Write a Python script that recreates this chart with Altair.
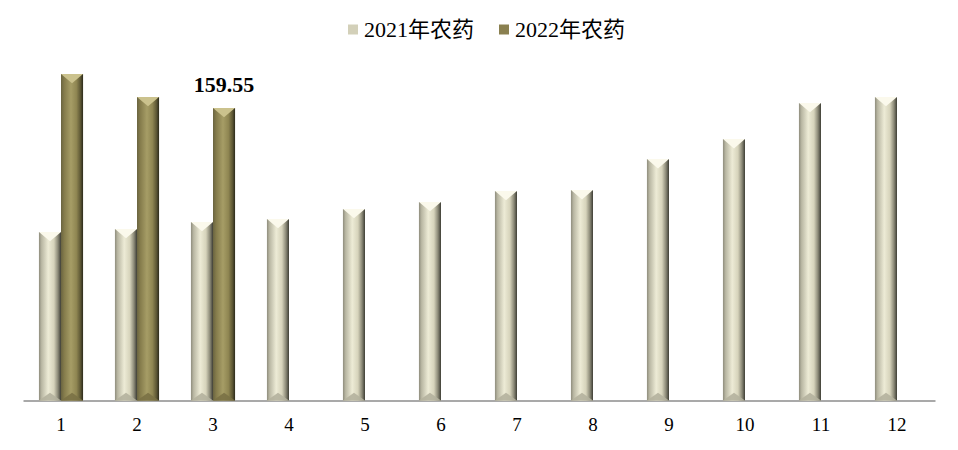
import altair as alt
import pandas as pd

months = [str(i) for i in range(1, 13)]
series = ["2021年农药", "2022年农药"]
v2021 = [91.9, 93.6, 97.4, 99.0, 104.5, 108.3, 114.3, 114.8, 131.7, 142.6, 162.3, 165.6]
months_2022 = ["1", "2", "3"]
v2022 = [178.1, 165.6, 159.55]
label_month = "3"
label_value = 159.55

rows = [{"month": m, "series": series[0], "value": v} for m, v in zip(months, v2021)]
rows += [{"month": m, "series": series[1], "value": v} for m, v in zip(months_2022, v2022)]
df = pd.DataFrame(rows)

SERIF = "Liberation Serif, Times New Roman, Noto Sans CJK SC, serif"

grad21 = alt.Gradient(
    gradient="linear", x1=0, x2=1, y1=0, y2=0,
    stops=[
        alt.GradientStop(offset=0, color="#8f8d7d"),
        alt.GradientStop(offset=0.12, color="#b9b7a3"),
        alt.GradientStop(offset=0.42, color="#edebd6"),
        alt.GradientStop(offset=0.68, color="#d6d3bb"),
        alt.GradientStop(offset=0.86, color="#8c8a78"),
        alt.GradientStop(offset=1, color="#3e3e35"),
    ],
)
grad22 = alt.Gradient(
    gradient="linear", x1=0, x2=1, y1=0, y2=0,
    stops=[
        alt.GradientStop(offset=0, color="#6a6440"),
        alt.GradientStop(offset=0.15, color="#857c4c"),
        alt.GradientStop(offset=0.45, color="#a69d66"),
        alt.GradientStop(offset=0.7, color="#8f8652"),
        alt.GradientStop(offset=0.88, color="#5e5835"),
        alt.GradientStop(offset=1, color="#2c2a1b"),
    ],
)

yscale = alt.Scale(domain=[0, 180], nice=False, zero=True)
x = alt.X(
    "month:N", sort=months,
    scale=alt.Scale(paddingInner=0.42, paddingOuter=0.21),
    axis=alt.Axis(title=None, labelAngle=0, ticks=False, domainColor="#8c8c8c",
                  domainWidth=1.6, labelFont=SERIF, labelFontSize=19,
                  labelColor="#000000", labelPadding=15, grid=False),
)
xo = alt.XOffset("series:N", scale=alt.Scale(domain=series, paddingInner=0, paddingOuter=0))
y = alt.Y("value:Q", scale=yscale, axis=None)

base = alt.Chart(df).encode(x=x, xOffset=xo, y=y)

legend_layer = base.mark_bar().encode(
    color=alt.Color(
        "series:N",
        scale=alt.Scale(domain=series, range=["#d3d0b9", "#8a8050"]),
        legend=alt.Legend(title=None, orient="none", legendX=319, legendY=-52,
                          direction="horizontal", symbolType="square", symbolSize=100,
                          symbolStrokeWidth=0, labelFont=SERIF, labelFontSize=22,
                          labelColor="#000000", columnPadding=18, labelOffset=0),
    )
)

f21 = alt.datum.series == series[0]
f22 = alt.datum.series == series[1]

bars21 = base.transform_filter(f21).mark_bar(color=grad21)
bars22 = base.transform_filter(f22).mark_bar(color=grad22)

tri_top = "M-1,0L1,0L0,0.85Z"
tri_bot = "M-1,0L1,0L0,-0.7Z"
tops21 = base.transform_filter(f21).mark_point(shape=tri_top, filled=True, size=484, color="#fbf9ec",
                                               opacity=1, strokeWidth=0)
tops22 = base.transform_filter(f22).mark_point(shape=tri_top, filled=True, size=484, color="#cbc28d",
                                               opacity=1, strokeWidth=0)
ybase = alt.Y("zero:Q", scale=yscale, axis=None)
bots21 = base.transform_filter(f21).transform_calculate(zero="0").mark_point(
    shape=tri_bot, filled=True, size=484, color="#b4b19d", opacity=0.9, strokeWidth=0
).encode(y=ybase)
bots22 = base.transform_filter(f22).transform_calculate(zero="0").mark_point(
    shape=tri_bot, filled=True, size=484, color="#7a7145", opacity=0.9, strokeWidth=0
).encode(y=ybase)

label_df = pd.DataFrame({"month": [label_month], "series": [series[1]], "value": [label_value]})
label = alt.Chart(label_df).mark_text(
    font=SERIF, fontSize=22, fontWeight="bold", color="#000000", baseline="alphabetic", dy=-16
).encode(x=x, xOffset=xo, y=y, text=alt.Text("value:Q", format=".2f"))

chart = alt.layer(legend_layer, bars21, bars22, tops21, tops22, bots21, bots22, label).properties(
    width=912, height=330,
    autosize=alt.AutoSizeParams(type="none"),
    padding={"left": 15, "top": 62.5, "right": 15, "bottom": 40},
).configure_view(stroke=None)

chart.save("out.html", embed_options={"renderer": "svg", "actions": False})
